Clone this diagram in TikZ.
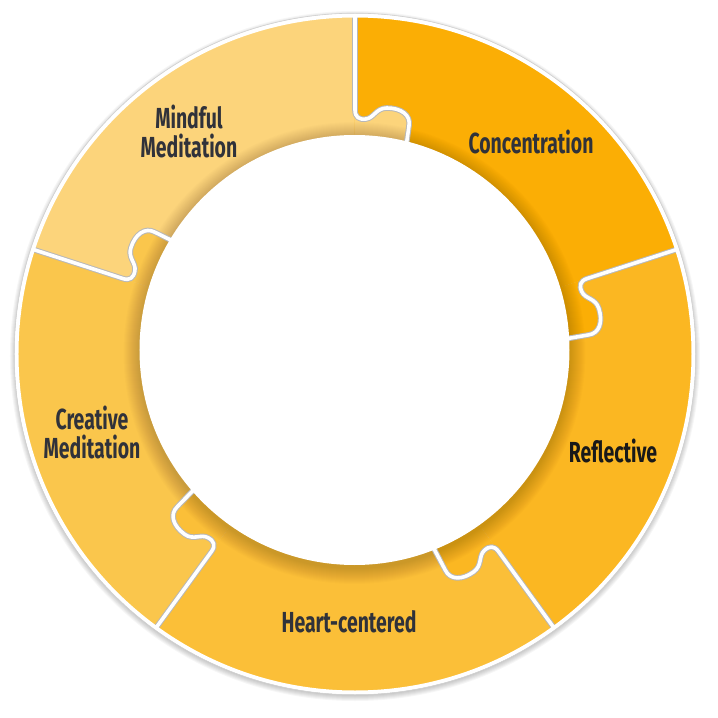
\documentclass[tikz,border=0pt]{standalone}
\usepackage{fontspec}
\usepackage{xcolor}
\newfontfamily\piecefont[FakeStretch=0.67]{Fira Sans}
\definecolor{Ink}{HTML}{30323A}
\definecolor{Mindful}{HTML}{FCD47B}
\definecolor{Focus}{HTML}{FBAE05}
\definecolor{Reflect}{HTML}{FBB722}
\definecolor{Heart}{HTML}{FBBF38}
\definecolor{Create}{HTML}{FAC64C}
\newcommand\knobrest{.. controls (0,237) and (4,234) .. (11,235) .. controls (19,236) and (21,246) .. (32,246) .. controls (46,246) and (56,239) .. (54,228) -- (50,200)}
\tikzset{
  lbl/.style={font=\piecefont\bfseries\fontsize{29}{29}\selectfont,text=Ink,align=center},
  seam/.style={line width=#1,line cap=round,line join=round}
}

\begin{document}
\begin{tikzpicture}[x=1pt,y=1pt]
  \useasboundingbox (-355,-364) rectangle (363,354);
  \fill[white] (-355,-364) rectangle (363,354);
  \foreach \r in {0,...,5}
    \fill[black,opacity=0.035] (0,-2) circle (340+\r);
  \foreach \a/\c in {162/Mindful,90/Focus,18/Reflect,-54/Heart,-126/Create}{
    \fill[\c] (\a:200) -- (\a:338) arc[start angle=\a,end angle=\a-72,radius=338]
      -- (\a-72:200) arc[start angle=\a-72,end angle=\a,radius=200] -- cycle;
  }
  \foreach \a/\c in {162/Mindful,90/Focus,18/Reflect,-54/Heart,-126/Create}
    \fill[\c,rotate=\a-162] (0,244) \knobrest -- (0,200) -- cycle;
  \foreach \r in {1,...,16}
    \fill[black,opacity=0.012] (-0.5,1) circle (215+\r);
  \foreach \a in {162,90,18,-54,-126}{
    \draw[black!28,seam=5.6,rotate=\a-90] (0,337) -- (0,244) \knobrest;
    \draw[white,seam=3.6,rotate=\a-90] (0,337) -- (0,244) \knobrest;
  }
  \draw[white,line width=4] (0,0) circle (338.5);
  \draw[black!18,line width=0.6] (0,0) circle (340.8);
  \fill[white] (-0.5,4) circle (215);

  \node[lbl] (mindful) at (-166,223) {Mindful\\Meditation};
  \node[lbl] (focus) at (176,212) {Concentration};
  \node[lbl,text=black!90] (reflect) at (258,-97) {Reflective};
  \node[lbl] (heart) at (-6,-268) {Heart-centered};
  \node[lbl] (create) at (-263,-78) {Creative\\Meditation};
\end{tikzpicture}
\end{document}
